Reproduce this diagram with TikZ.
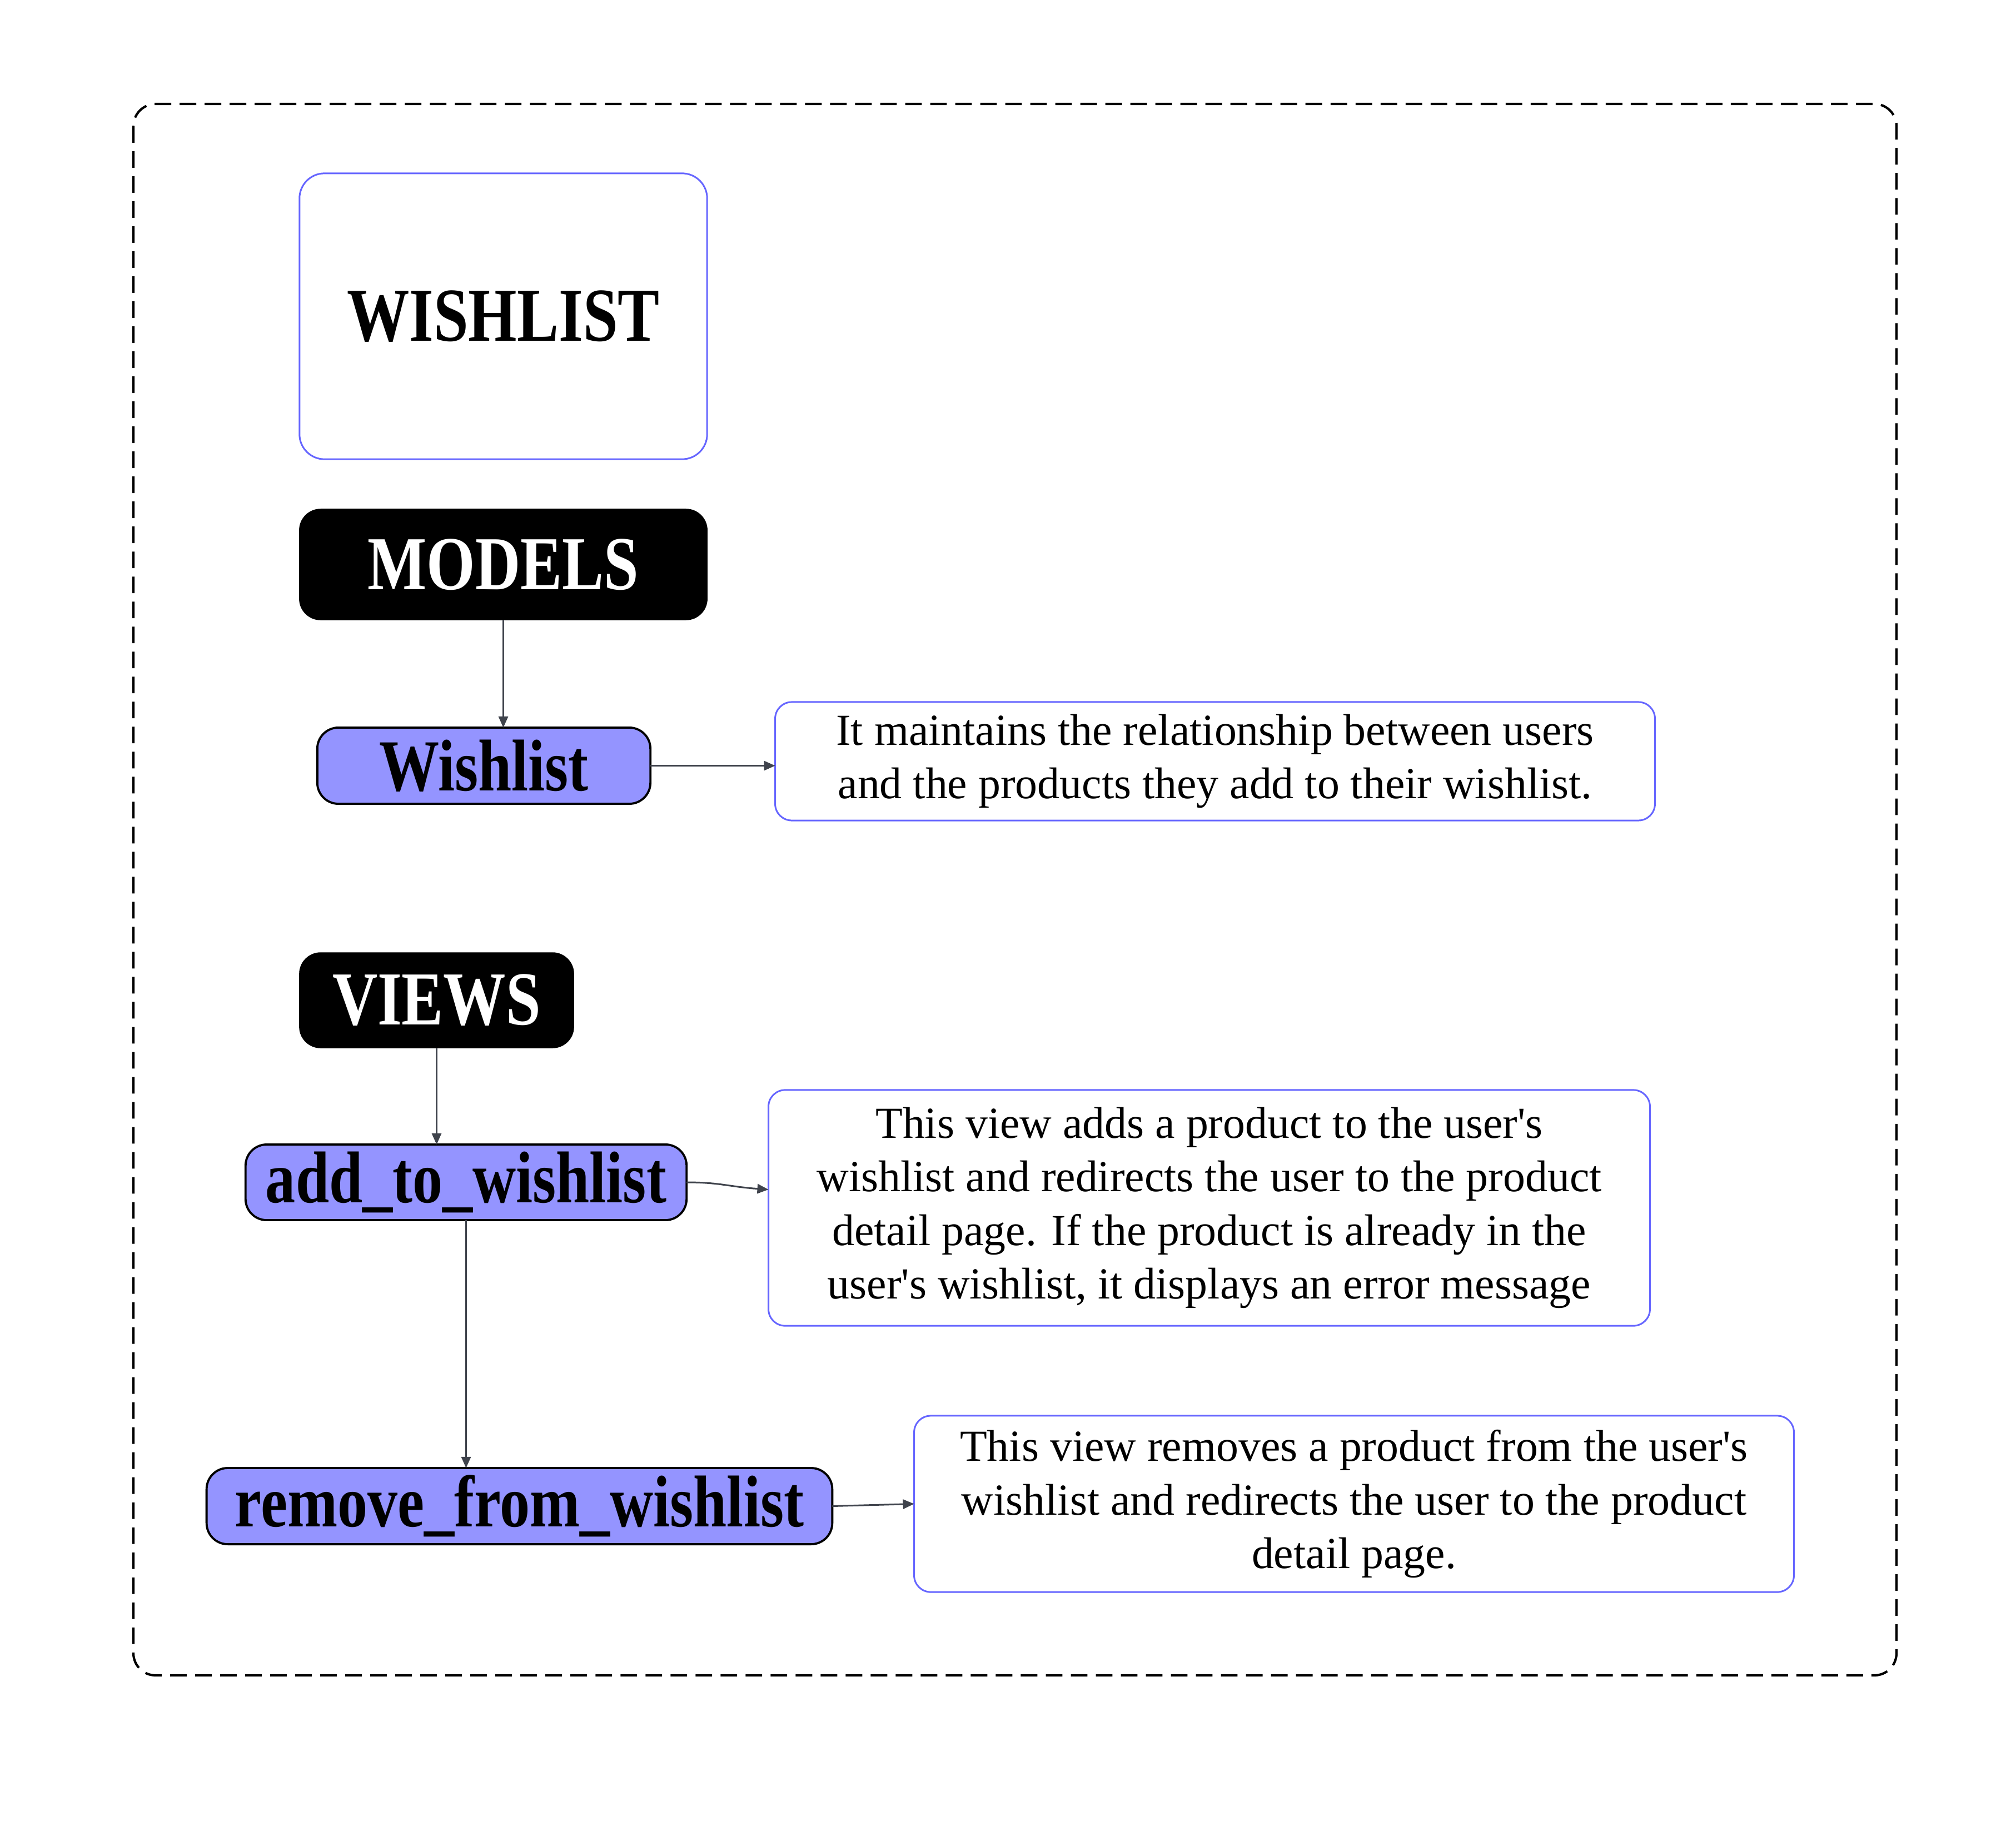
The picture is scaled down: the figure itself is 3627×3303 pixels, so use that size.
\documentclass[tikz,border=0pt]{standalone}
\usepackage{fontspec}
\setmainfont{Liberation Serif}
\newfontfamily\headfont[FakeStretch=0.82]{Liberation Serif}
\usetikzlibrary{arrows.meta,calc}
\definecolor{boxblue}{RGB}{102,102,255}
\definecolor{itemfill}{RGB}{148,148,255}
\definecolor{wire}{RGB}{63,67,76}
\newcommand{\sq}{\textquotesingle}
\begin{document}
\begin{tikzpicture}[x=0.01cm,y=-0.01cm,
  every node/.style={outer sep=0pt,inner sep=0pt},
  titlebox/.style={draw=boxblue,line width=0.85pt,rounded corners=0.45cm,fill=white,
    font=\headfont\bfseries\fontsize{39}{44}\selectfont},
  headbox/.style={fill=black,draw=black,rounded corners=0.38cm,text=white,
    font=\headfont\bfseries\fontsize{39}{44}\selectfont},
  itembox/.style={fill=itemfill,draw=black,line width=1.1pt,rounded corners=0.38cm,
    font=\headfont\bfseries\fontsize{37.5}{42}\selectfont},
  descbox/.style={draw=boxblue,line width=0.85pt,rounded corners=0.3cm,fill=white,
    align=center,font=\fontsize{22.7}{27.4}\selectfont},
  link/.style={draw=wire,line width=0.85pt,-{Triangle[length=0.2cm,width=0.17cm]}}]

% page extent and outer dashed frame
\useasboundingbox (0,0) rectangle (3627,3303);
\draw[line width=1.2pt,dash pattern=on 8.5pt off 4.3pt,rounded corners=0.4cm]
  (240,187) rectangle (3412,3014);

% app title
\node[titlebox,minimum width=7.33cm,minimum height=5.14cm] (app) at (905.5,569) {WISHLIST};

% models section
\node[headbox,minimum width=7.33cm,minimum height=1.99cm] (models) at (905.5,1015.5) {MODELS};
\node[itembox,minimum width=5.99cm,minimum height=1.37cm] (wl) at (870.5,1377.5) {Wishlist};
\node[descbox,minimum width=15.82cm,minimum height=2.13cm] (d1) at (2186,1369.5)
  {It maintains the relationship between users\\and the products they add to their wishlist.};

% views section
\node[headbox,minimum width=4.93cm,minimum height=1.71cm] (views) at (785.5,1799.5) {VIEWS};
\node[itembox,minimum width=7.93cm,minimum height=1.36cm] (add) at (838.5,2127) {add\_to\_wishlist};
\node[descbox,minimum width=15.85cm,minimum height=4.24cm] (d2) at (2175.5,2173)
  {This view adds a product to the user\sq s\\wishlist and redirects the user to the product\\detail page. If the product is already in the\\user\sq s wishlist, it displays an error message};
\node[itembox,minimum width=11.25cm,minimum height=1.37cm] (rm) at (934.5,2709.5) {remove\_from\_wishlist};
\node[descbox,minimum width=15.82cm,minimum height=3.17cm] (d3) at (2436,2705.5)
  {This view removes a product from the user\sq s\\wishlist and redirects the user to the product\\detail page.};

% connectors
\draw[link] (models.south) -- (models.south |- wl.north);
\draw[link] (wl.east) -- (wl.east -| d1.west);
\draw[link] (views.south) -- (views.south |- add.north);
\coordinate (d2in) at ($(d2.west)+(0,-33)$);
\draw[link] (add.east) .. controls ($(add.east)+(60,0)$) and ($(d2in)+(-70,-5)$) .. (d2in);
\draw[link] (add.south) -- (add.south |- rm.north);
\draw[link] (rm.east) -- (d3.west);
\end{tikzpicture}
\end{document}
